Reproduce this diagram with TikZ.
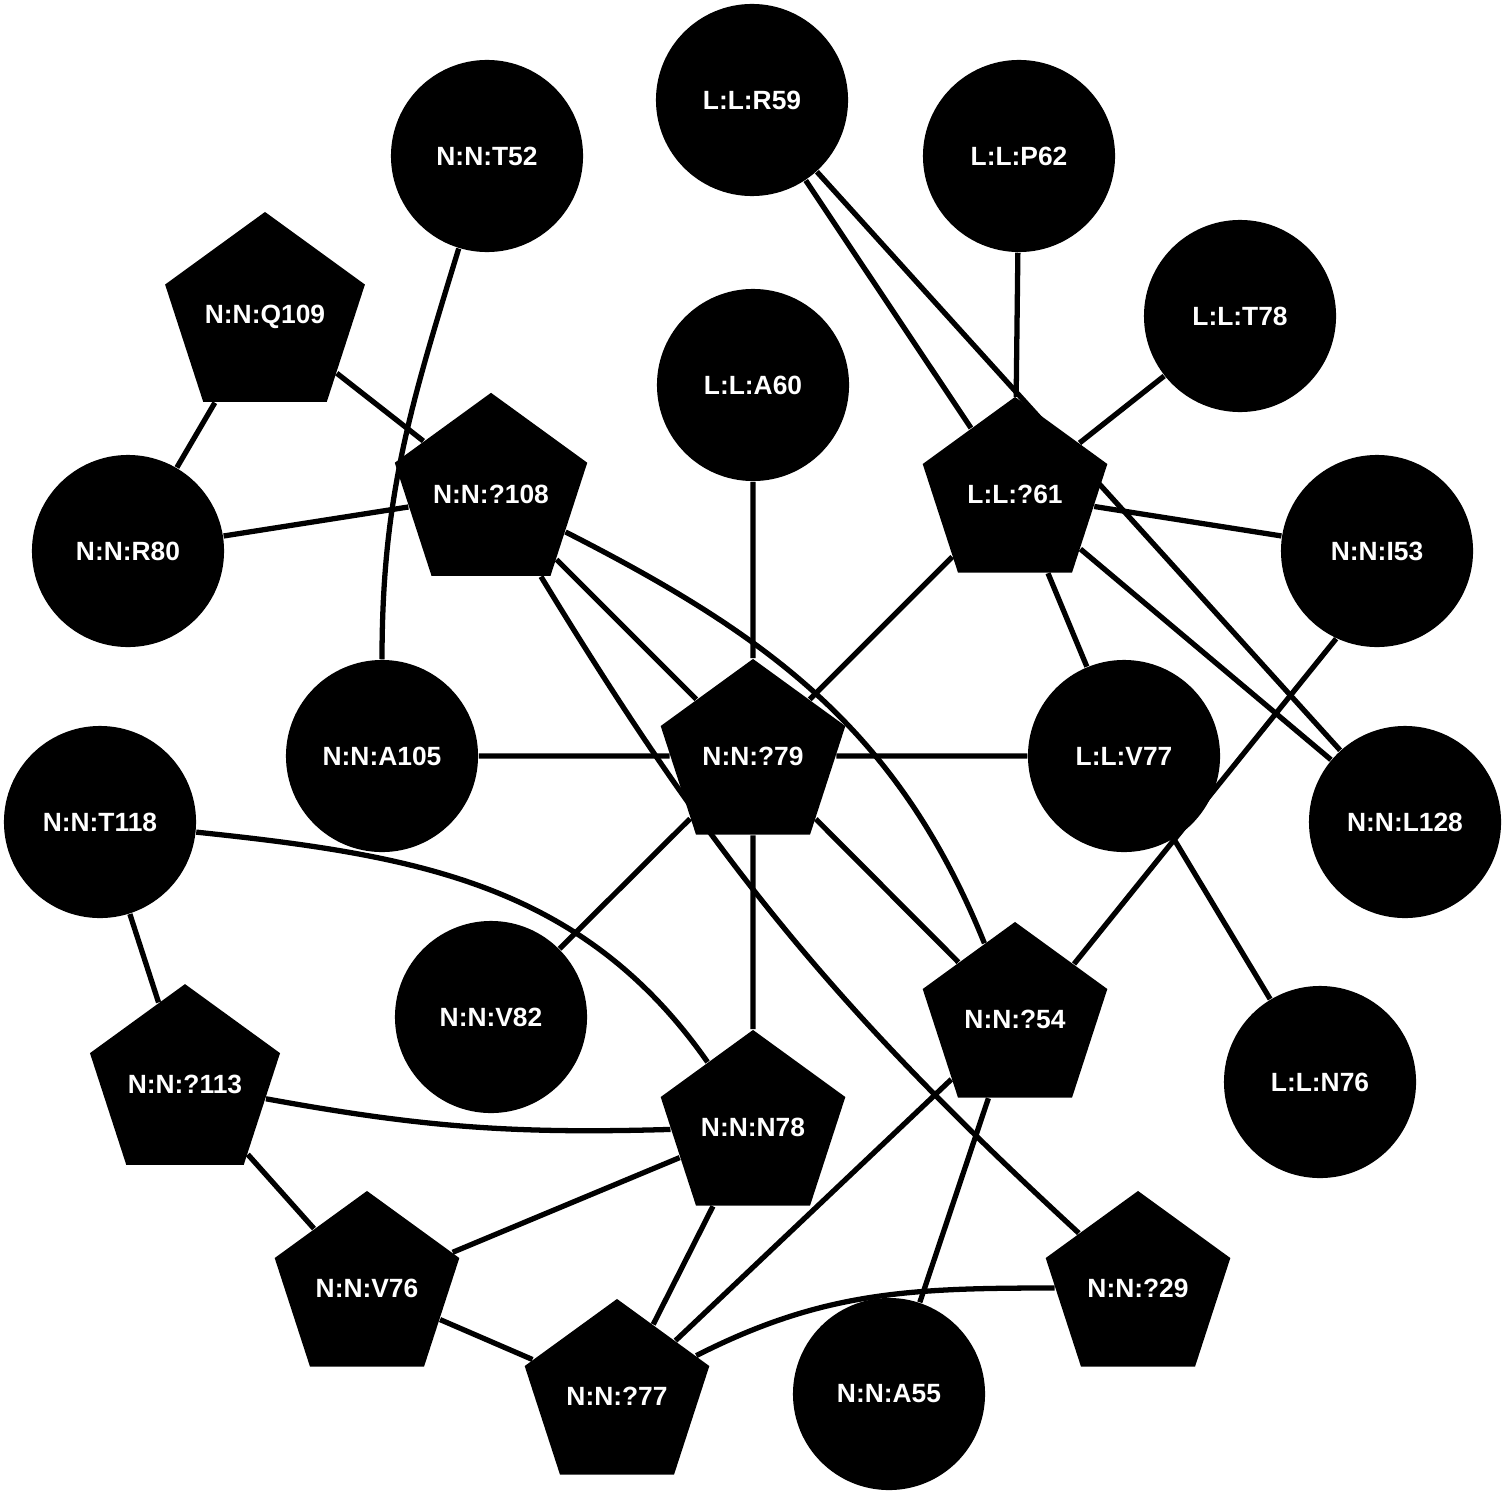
\documentclass[tikz,border=0pt]{standalone}
\usepackage{fontspec}
\setsansfont{Liberation Sans}
\usetikzlibrary{positioning, shapes.geometric, backgrounds}

\begin{document}
\begin{tikzpicture}[
    x=0.01cm, y=-0.01cm,
    font=\sffamily\bfseries\fontsize{7.5}{9}\selectfont,
    atom/.style={fill=black, text=white, inner sep=0pt},
    ringnode/.style={atom, circle, minimum size=1.92cm},
    pentnode/.style={atom, regular polygon, regular polygon sides=5, minimum size=1.94cm},
    link/.style={line width=1.5pt, black}
]

\useasboundingbox (0,0) rectangle (1507,1500);

% Upper ring
\node[ringnode] (lR59) at (752,100) {L:L:R59};
\node[ringnode] (nT52) at (487,156) {N:N:T52};
\node[ringnode] (lP62) at (1019,156) {L:L:P62};
\node[pentnode] (nQ109) at (265,317) {N:N:Q109};
\node[ringnode] (lT78) at (1240,316) {L:L:T78};
\node[ringnode] (lA60) at (753,385) {L:L:A60};
\node[pentnode] (n108) at (491,494) {N:N:?108};
\node[pentnode] (l61) at (1015,494) {L:L:?61};
\node[ringnode] (nR80) at (128,551) {N:N:R80};
\node[ringnode] (nI53) at (1377,551) {N:N:I53};

% Middle row
\node[ringnode] (nA105) at (382,756) {N:N:A105};
\node[pentnode] (n79) at (753,756) {N:N:?79};
\node[ringnode] (lV77) at (1124,756) {L:L:V77};
\node[ringnode] (nT118) at (100,822) {N:N:T118};
\node[ringnode] (nL128) at (1405,822) {N:N:L128};

% Lower ring
\node[ringnode] (nV82) at (491,1017) {N:N:V82};
\node[pentnode] (n54) at (1015,1019) {N:N:?54};
\node[pentnode] (n113) at (185,1084) {N:N:?113};
\node[ringnode] (lN76) at (1320,1082) {L:L:N76};
\node[pentnode] (nN78) at (753,1127) {N:N:N78};
\node[pentnode] (nV76) at (367,1288) {N:N:V76};
\node[pentnode] (n29) at (1138,1288) {N:N:?29};
\node[pentnode] (n77) at (617,1396) {N:N:?77};
\node[ringnode] (nA55) at (889,1394) {N:N:A55};

% Links
\begin{scope}[on background layer]
    \draw[link] (nQ109) -- (nR80);
    \draw[link] (nQ109) -- (n108);
    \draw[link] (nR80) -- (n108);
    \draw[link] (nT52) to[out=253, in=90] (nA105);
    \draw[link] (n108) -- (n79);
    \draw[link] (n108) to[out=-27, in=112] (n54);
    \draw[link] (n108) to[bend right=8] (n29);
    \draw[link] (lR59) -- (l61);
    \draw[link] (lR59) -- (nL128);
    \draw[link] (lP62) -- (l61);
    \draw[link] (lT78) -- (l61);
    \draw[link] (l61) -- (nI53);
    \draw[link] (l61) -- (lV77);
    \draw[link] (l61) -- (nL128);
    \draw[link] (l61) -- (n79);
    \draw[link] (lA60) -- (n79);
    \draw[link] (nA105) -- (n79);
    \draw[link] (n79) -- (lV77);
    \draw[link] (n79) -- (nV82);
    \draw[link] (n79) -- (nN78);
    \draw[link] (n79) -- (n54);
    \draw[link] (nI53.245) -- (n54.43);
    \draw[link] (lV77) -- (lN76);
    \draw[link] (nT118) -- (n113);
    \draw[link] (nT118) to[out=-6, in=125] (nN78);
    \draw[link] (n113) to[bend right=6] (nN78);
    \draw[link] (n113) -- (nV76);
    \draw[link] (nN78) -- (nV76);
    \draw[link] (nN78) -- (n77);
    \draw[link] (n54) -- (n77);
    \draw[link] (n54) -- (nA55);
    \draw[link] (nV76) -- (n77);
    \draw[link] (n77) to[out=27, in=180] (n29);
\end{scope}

\end{tikzpicture}
\end{document}
